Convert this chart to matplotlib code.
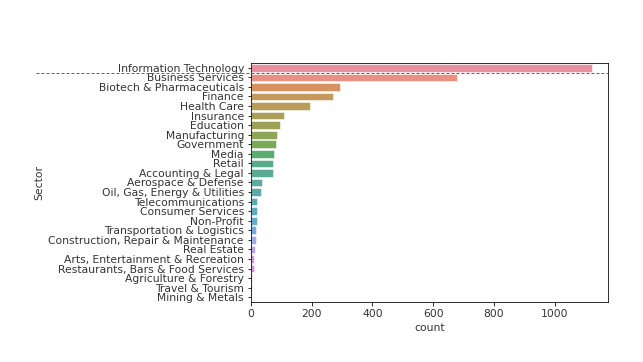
import matplotlib
matplotlib.use("Agg")
import matplotlib.pyplot as plt
import matplotlib.transforms as mtransforms
import seaborn as sns

sectors = [
    "Information Technology", "Business Services", "Biotech & Pharmaceuticals",
    "Finance", "Health Care", "Insurance", "Education", "Manufacturing",
    "Government", "Media", "Retail", "Accounting & Legal", "Aerospace & Defense",
    "Oil, Gas, Energy & Utilities", "Telecommunications", "Consumer Services",
    "Non-Profit", "Transportation & Logistics", "Construction, Repair & Maintenance",
    "Real Estate", "Arts, Entertainment & Recreation",
    "Restaurants, Bars & Food Services", "Agriculture & Forestry",
    "Travel & Tourism", "Mining & Metals",
]
counts = [1122, 678, 293, 270, 196, 108, 97, 87, 82, 76, 72, 72, 37, 33,
          20, 20, 20, 15, 15, 12, 10, 10, 3, 2, 1]
line_y = 0.55

FS = 10.8


def lighten(c, amt=0.12):
    return tuple(v + (1 - v) * amt for v in c)


colors = [lighten(sns.desaturate(c, 0.75)) for c in sns.husl_palette(len(sectors))]

fig = plt.figure(figsize=(643 / 72, 362 / 72), dpi=72)
ax = fig.add_axes([251 / 643, 1 - 302 / 362, (608 - 251) / 643, (302 - 63) / 362])

pos = list(range(len(sectors)))
ax.barh(pos, counts, height=0.8, color=colors, edgecolor="white", linewidth=0.5)
ax.set_yticks(pos)
ax.set_yticklabels(sectors, fontsize=FS, color="#333333")
ax.set_ylim(len(sectors) - 0.5, -0.5)
ax.set_xlim(0, 1176)
ax.set_xticks([0, 200, 400, 600, 800, 1000])
ax.tick_params(axis="x", labelsize=FS, labelcolor="#333333")
ax.set_xlabel("count", fontsize=FS, color="#333333")
ax.set_ylabel("Sector", fontsize=FS, color="#333333")

# dotted reference line running out past the left of the axes
trans = mtransforms.blended_transform_factory(ax.transAxes, ax.transData)
ax.plot([(36 - 251) / (608 - 251), 1.0], [line_y, line_y], transform=trans,
        color="#2b6bd6", ls=(0, (3, 2)), lw=1.0, clip_on=False, zorder=5)

fig.savefig("out.png", dpi=72)
